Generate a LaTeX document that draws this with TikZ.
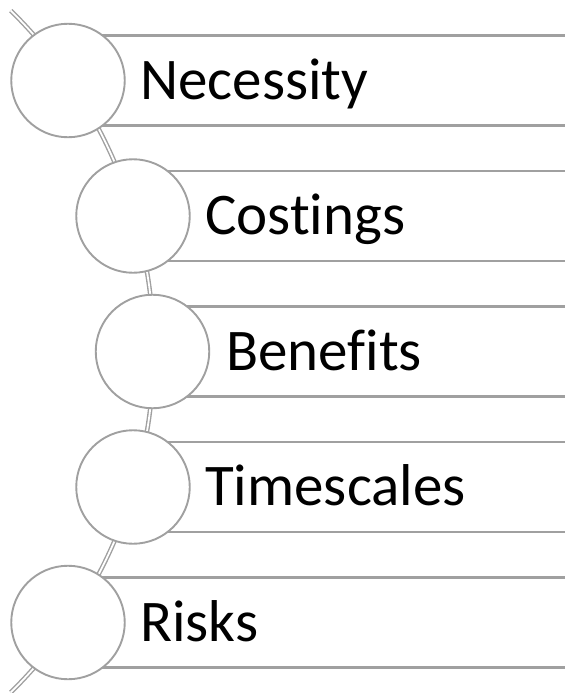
\documentclass[tikz,border=0pt]{standalone}
\usepackage{fontspec}
\setmainfont{Carlito}[Ligatures=NoCommon]
\usetikzlibrary{calc}
\definecolor{lg}{RGB}{160,160,160}
\begin{document}
\begin{tikzpicture}[x=1pt,y=-1pt,
  circ/.style={circle, draw=lg, line width=1.9pt, fill=white, minimum size=113.5pt, inner sep=0pt},
  band/.style={draw=lg, line width=2.1pt},
  arcline/.style={draw=lg, line width=1.4pt, double=white, double distance=1.8pt},
  lab/.style={anchor=base west, inner sep=0pt, font=\fontsize{59}{70}\selectfont}]
\useasboundingbox (0,0) rectangle (565,693);
\coordinate (arcC) at (-324.3,351.5);
\coordinate (arcTop) at ($(arcC)+(-45.5:478)$);
\draw[arcline] (arcTop) arc[start angle=-45.5, end angle=45.5, radius=478];
% bands
\foreach \cx/\cy in {68/80.5, 133/216, 152.5/351.5, 133/487, 68/622.5}{
  \draw[band] (\cx,\cy-45) -- (565,\cy-45);
  \draw[band] (\cx,\cy+45) -- (565,\cy+45);
}
\node[circ] (c1) at (68,80.5) {};
\node[circ] (c2) at (133,216) {};
\node[circ] (c3) at (152.5,351.5) {};
\node[circ] (c4) at (133,487) {};
\node[circ] (c5) at (68,622.5) {};
\node[lab] (t1) at (140,99) {Necessity};
\node[lab] (t2) at (205,234.5) {Costings};
\node[lab] (t3) at (226,370) {Benefits};
\node[lab] (t4) at (205,505.5) {Timescales};
\node[lab] (t5) at (140,641) {Risks};
\end{tikzpicture}
\end{document}
